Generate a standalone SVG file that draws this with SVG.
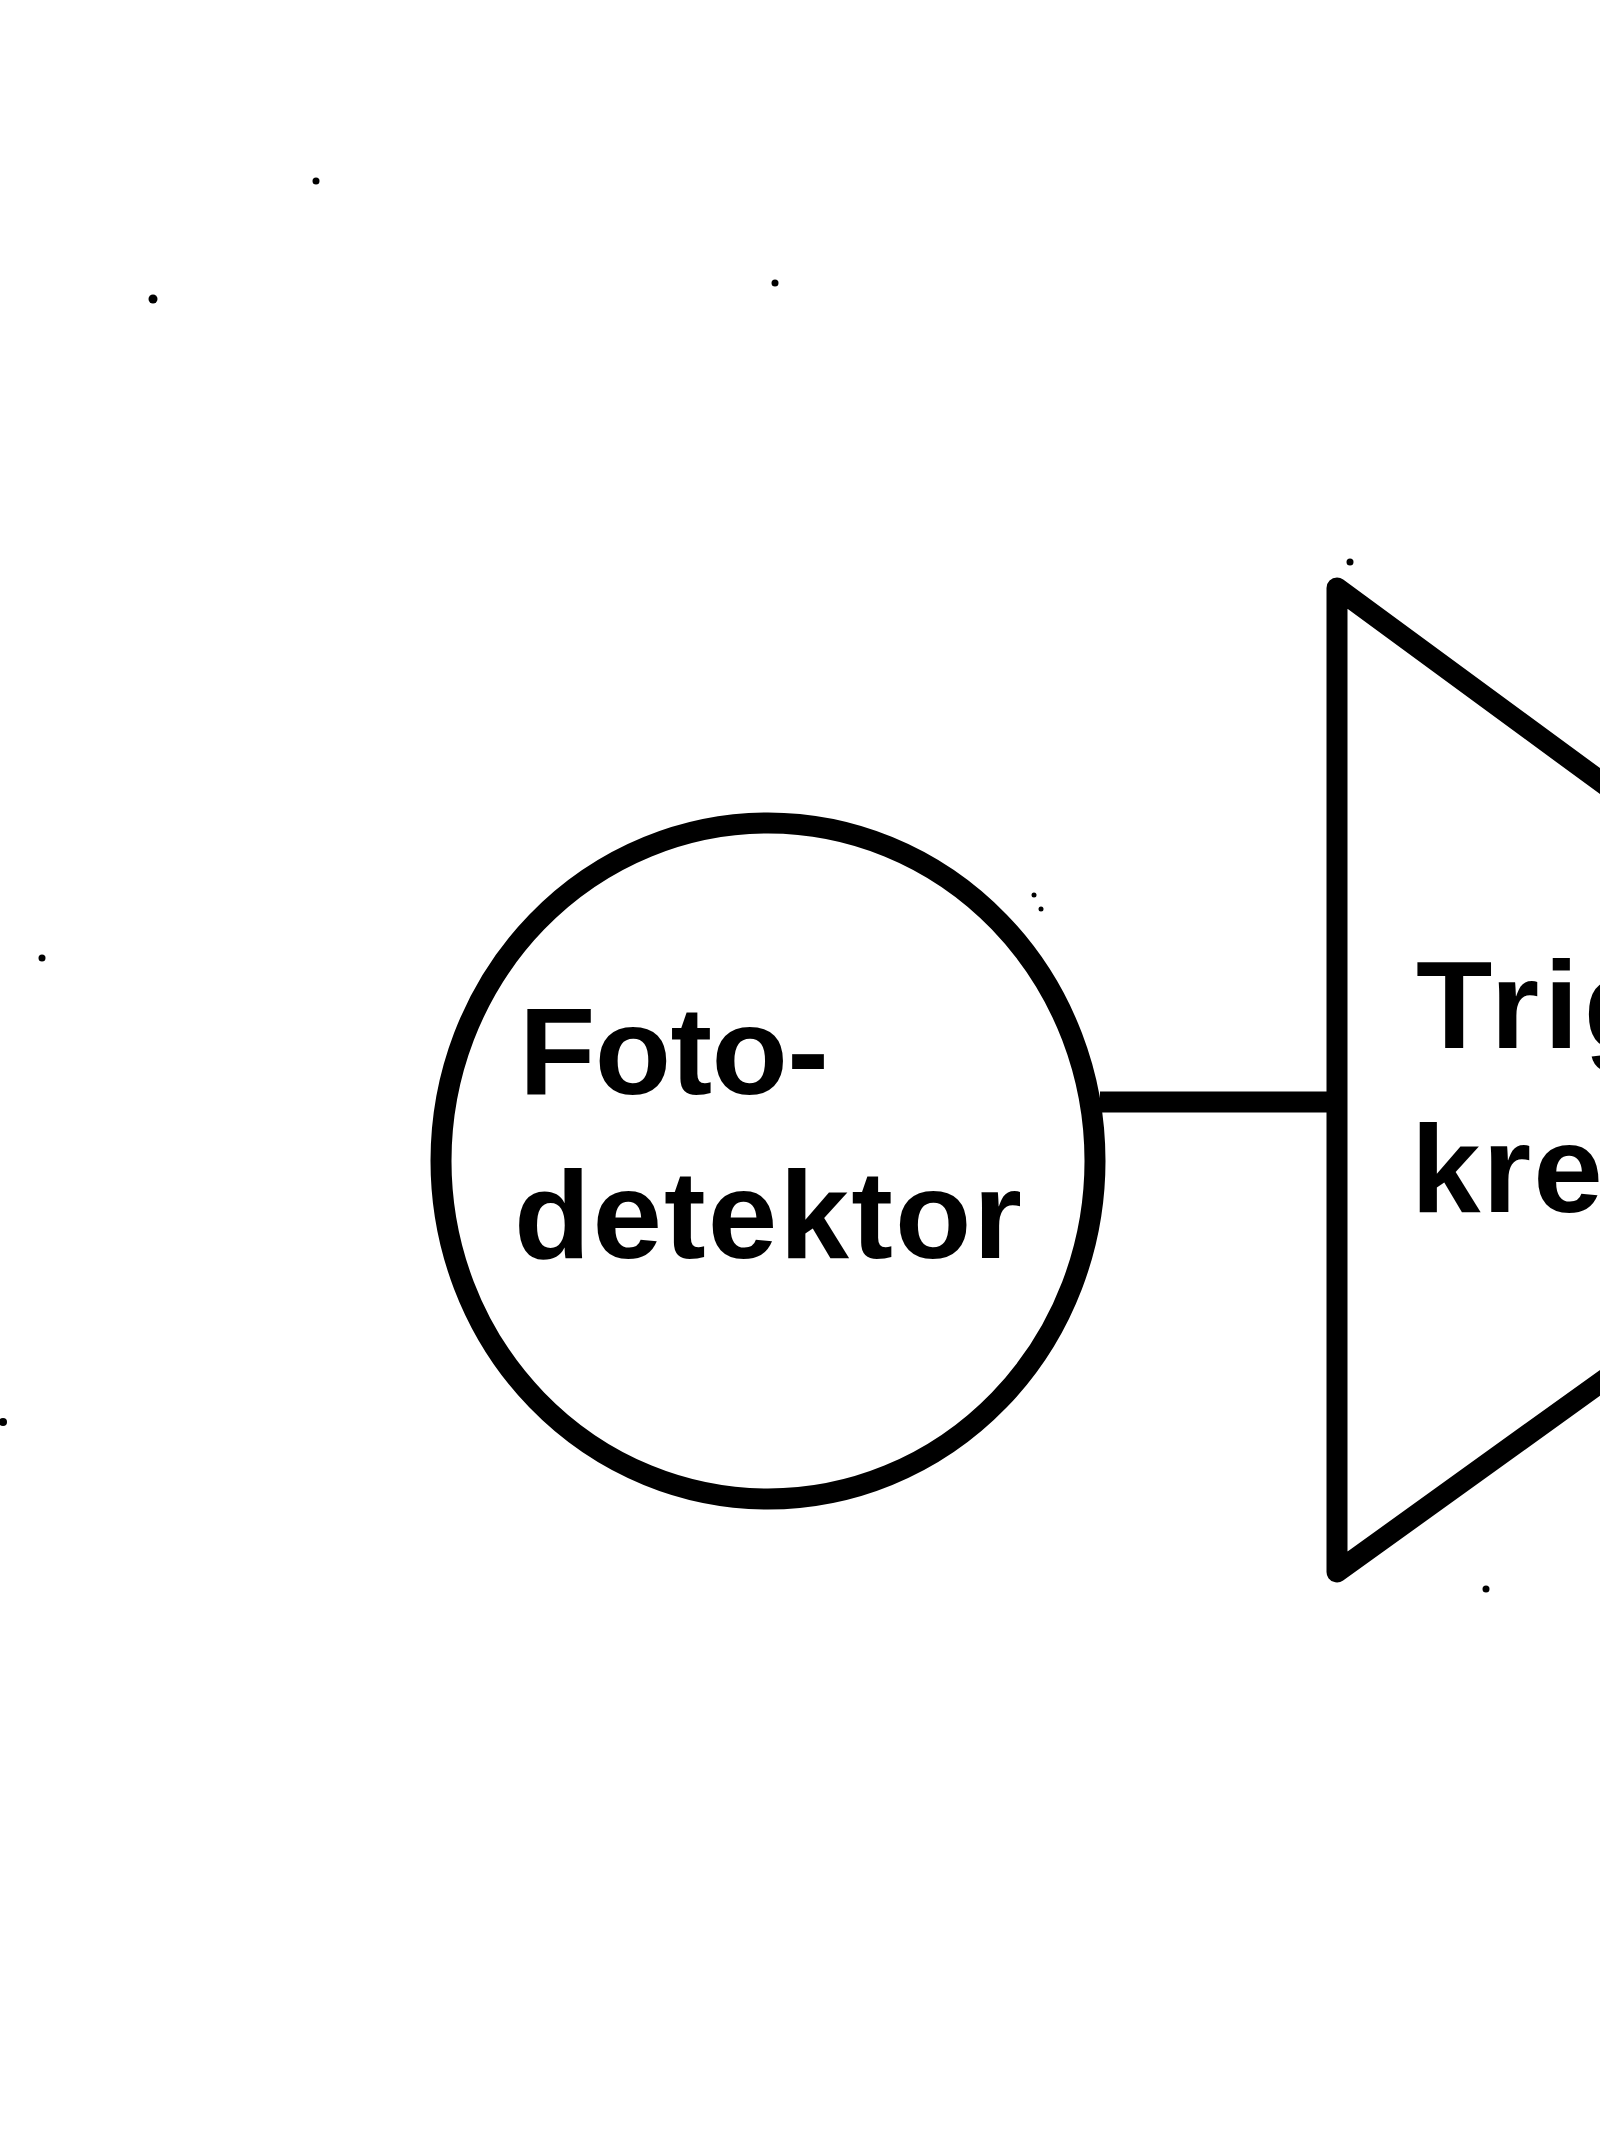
<svg xmlns="http://www.w3.org/2000/svg" width="1600" height="2134" viewBox="0 0 1600 2134">
  <style>
    .shape { fill: none; stroke: #000; stroke-width: 21; stroke-linejoin: round; }
    .wire { stroke: #000; stroke-width: 21; stroke-linecap: butt; }
    .label { font-family: "Liberation Sans", Arial, sans-serif; font-weight: bold; font-size: 125px; fill: #000; }
    .speck { fill: #000; }
  </style>
  <rect width="1600" height="2134" fill="#fff"/>
  <g id="specks">
    <circle class="speck" cx="316" cy="181" r="3.5"/>
    <circle class="speck" cx="153" cy="299" r="4.5"/>
    <circle class="speck" cx="775" cy="283" r="3.5"/>
    <circle class="speck" cx="42" cy="958" r="3.5"/>
    <circle class="speck" cx="1350" cy="562" r="3.5"/>
    <circle class="speck" cx="1486" cy="1589" r="3.5"/>
    <circle class="speck" cx="1034" cy="895" r="2.5"/>
    <circle class="speck" cx="1041" cy="909" r="2.5"/>
    <circle class="speck" cx="3" cy="1422" r="4"/>
  </g>
  <g id="connectors">
    <line class="wire" x1="1100" y1="1102" x2="1337" y2="1102"/>
  </g>
  <g id="photodetector">
    <ellipse class="shape" cx="768" cy="1161" rx="327" ry="338"/>
    <text class="label" x="519" y="1094" textLength="310" lengthAdjust="spacing">Foto-</text>
    <text class="label" x="514" y="1258" textLength="508" lengthAdjust="spacing">detektor</text>
  </g>
  <g id="trigger-circuit">
    <polygon class="shape" points="1337,588 2014,1085 1337,1572"/>
    <text class="label" x="1416" y="1048" letter-spacing="5">Trigger-</text>
    <text class="label" x="1411" y="1212" letter-spacing="2">krets</text>
  </g>
</svg>
